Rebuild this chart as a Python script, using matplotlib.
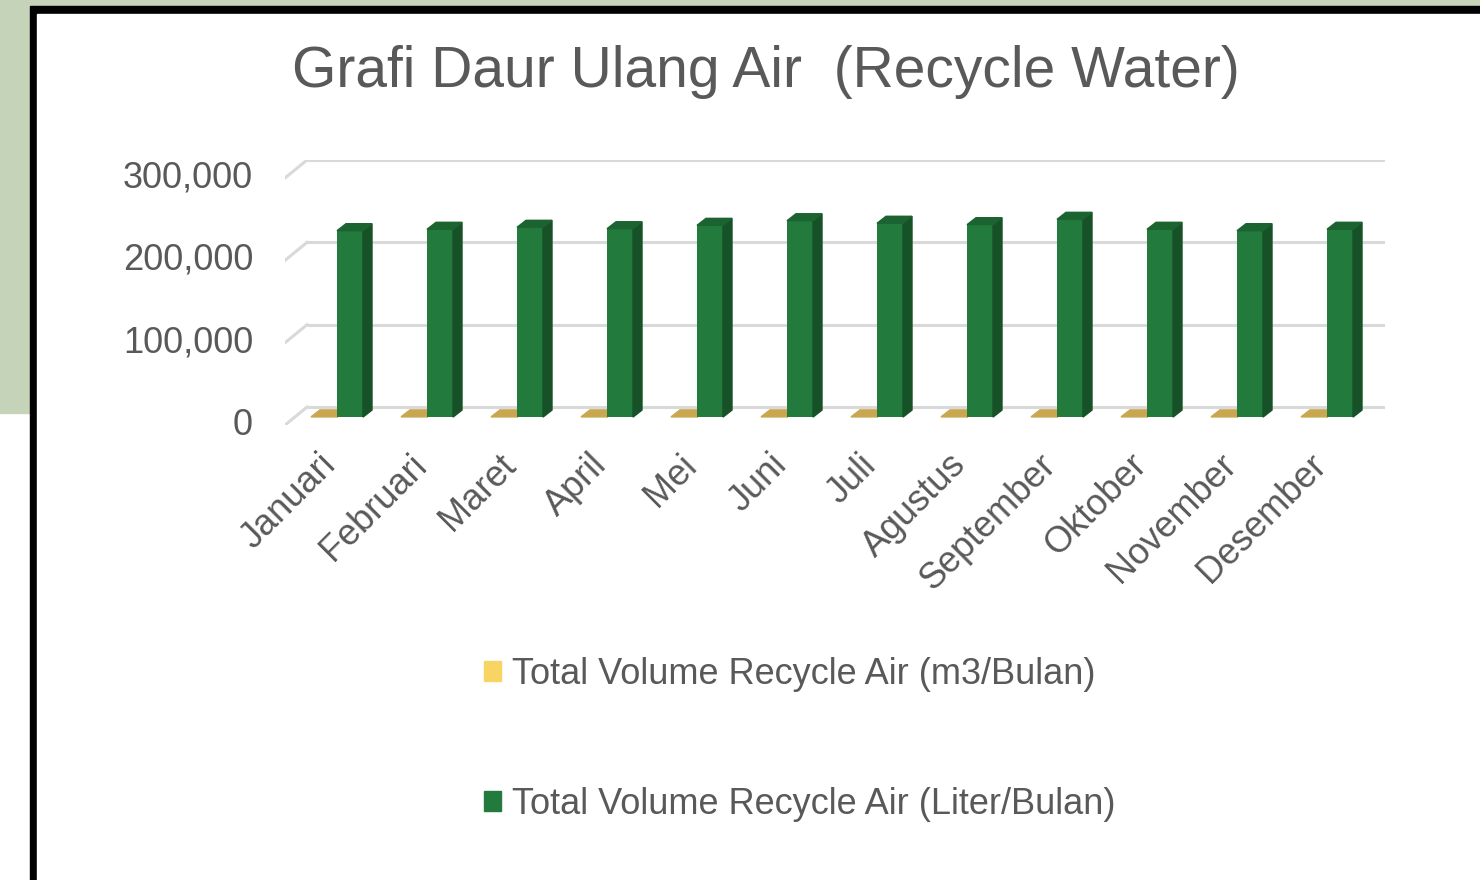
import numpy as np
import matplotlib.pyplot as plt
from matplotlib.patches import Polygon, Rectangle, Patch

plt.rcParams['font.family'] = ['Liberation Sans', 'DejaVu Sans']

bulan = ["Januari", "Februari", "Maret", "April", "Mei", "Juni", "Juli",
         "Agustus", "September", "Oktober", "November", "Desember"]
# liter / bulan (green) and m3 / bulan (yellow)
liter = [226300, 228000, 230400, 228700, 232800, 238400, 235300,
         233600, 240100, 228000, 226300, 228000]
m3 = [226.3, 228.0, 230.4, 228.7, 232.8, 238.4, 235.3,
      233.6, 240.1, 228.0, 226.3, 228.0]
yticks = [0, 100000, 200000, 300000]
ylabels = ["0", "100,000", "200,000", "300,000"]
seri = ["Total Volume Recycle Air (m3/Bulan)", "Total Volume Recycle Air (Liter/Bulan)"]

txt = '#595959'
green_front, green_side, green_top = '#227b3d', '#165127', '#1b6431'
yel_front, yel_top = '#f8d563', '#c9a74f'
grid_c = '#d9d9d9'

W, H = 1480, 880
fig = plt.figure(figsize=(14.8, 8.8), dpi=100)

# page background + black frame
fig.patches.append(Rectangle((0, 1 - 413 / H), 1, 413 / H, transform=fig.transFigure,
                             color='#c5d3b8', zorder=-10))
fig.patches.append(Rectangle((30 / W, 0), 1, 1 - 6 / H, transform=fig.transFigure,
                             color='black', zorder=-9))
fig.patches.append(Rectangle((37 / W, 0), 1, 1 - 14 / H, transform=fig.transFigure,
                             color='white', zorder=-8))

# scale: 300,000 = 247 px, one category = 90 px
vpp = 300000 / 247.0
xpp = 1 / 90.0
floor_dx, floor_dy = 22 * xpp, 18 * vpp
bar_dx, bar_dy = 9 * xpp, 7 * vpp
base = -10 * vpp
w = 26 * xpp

ax = fig.add_axes([285 / W, 1 - 425.1 / H, 1100 / W, 265.1 / H])
ax.set_facecolor('none')
for s in ax.spines.values():
    s.set_visible(False)
x0 = -52 * xpp
ax.set_xlim(x0, x0 + 1100 * xpp)
ax.set_ylim(-floor_dy, 300000)

# 3d-ish gridlines (back wall + side diagonal)
for v in yticks:
    ax.plot([x0 + floor_dx, x0 + 1100 * xpp], [v, v], color=grid_c, lw=2.2, zorder=1,
            solid_capstyle='butt')
    ax.plot([x0, x0 + floor_dx], [v - floor_dy, v], color=grid_c, lw=2.2, zorder=1)


def box(xl, val, front, side, top):
    ax.bar(xl + w / 2, val, width=w, bottom=base, color=front, zorder=3)
    yt = base + val
    ax.add_patch(Polygon([(xl + w, base), (xl + w + bar_dx, base + bar_dy),
                          (xl + w + bar_dx, yt + bar_dy), (xl + w, yt)],
                         closed=True, color=side, zorder=3))
    ax.add_patch(Polygon([(xl, yt), (xl + bar_dx, yt + bar_dy),
                          (xl + w + bar_dx, yt + bar_dy), (xl + w, yt)],
                         closed=True, color=top, zorder=3))


xs = np.arange(len(bulan))
for i in xs:
    box(i - w, m3[i], yel_front, yel_top, yel_top)
    box(i, liter[i], green_front, green_side, green_top)

ax.set_yticks([v - floor_dy + 4 * vpp for v in yticks])
ax.set_yticklabels(ylabels, fontsize=26, color=txt)
ax.set_xticks(xs - 6 * xpp)
ax.set_xticklabels(bulan, fontsize=26, color=txt, rotation=45, ha='right',
                   va='center', rotation_mode='anchor')
ax.tick_params(axis='y', length=0, pad=23)
ax.tick_params(axis='x', length=0, pad=25)

fig.text(766 / W, 1 - 72 / H, "Grafi Daur Ulang Air  (Recycle Water)",
         ha='center', va='center', fontsize=41, color=txt)

handles = [Patch(color=yel_front), Patch(color=green_front)]
fig.legend(handles, seri, loc='upper left', bbox_to_anchor=(484 / W, 1 - 657 / H),
           frameon=False, fontsize=26, labelcolor=txt, handlelength=0.47,
           handleheight=0.47, handletextpad=0.3, labelspacing=2.62,
           borderpad=0, borderaxespad=0)

fig.savefig('out.png', dpi=100)
